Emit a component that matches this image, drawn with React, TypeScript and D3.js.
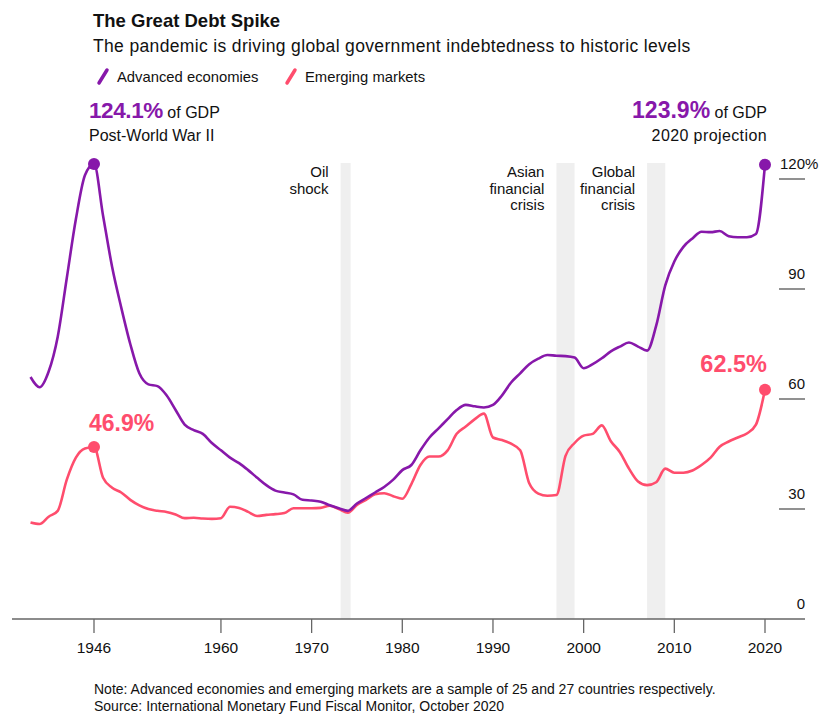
import React from "react";
import * as d3 from "d3";

const years: number[] = d3.range(1939, 2021);

const advanced: number[] = [
  66, 63.2, 67.5, 77, 93, 109, 121, 124.1, 110, 96, // 1939-1948
  85, 75, 67, 64, 63.5, 61, 57, 53, 51.5, 50.5, // 1949-1958
  48, 46, 44, 42.5, 40.6, 38.5, 36.5, 35, 34.5, 34, // 1959-1968
  32.5, 32.3, 32, 31, 30.2, 29.5, 31.5, 33, 34.5, 36, // 1969-1978
  38, 40.6, 42, 46, 49.5, 52, 54.5, 57, 58.4, 58, // 1979-1988
  57.7, 58.4, 61, 64.5, 67, 69.5, 71, 72, 71.8, 71.7, // 1989-1998
  71.3, 68.4, 69.5, 71.1, 73, 74.3, 75.4, 74.3, 73.2, 80, // 1999-2008
  91, 97.5, 101.5, 103.8, 105.6, 105.5, 105.8, 104.4, 104.1, 104.1, // 2009-2018
  105, 123.9, // 2019-2020
];

const emerging: number[] = [
  26.3, 25.9, 27.9, 29.5, 38, 44, 46.5, 46.9, 38.5, 35.8, // 1939-1948
  34.5, 32.5, 31, 30, 29.5, 29.2, 28.5, 27.5, 27.6, 27.4, // 1949-1958
  27.3, 27.5, 30.6, 30.3, 29.2, 28.1, 28.4, 28.6, 28.9, 30.2, // 1959-1968
  30.2, 30.2, 30.3, 30.9, 30, 29, 31.1, 32.5, 34, 34.3, // 1969-1978
  33.5, 32.8, 36.8, 42, 44.3, 44.3, 46, 50.5, 52.5, 54.5, // 1979-1988
  56, 49.5, 48.8, 47.8, 46, 37, 34.2, 33.6, 33.8, 44.5, // 1989-1998
  48, 50, 50.5, 52.8, 48.5, 45.5, 41, 37.5, 36.5, 37.3, // 1999-2008
  41, 39.9, 39.9, 40.5, 42, 44, 47, 48.4, 49.5, 50.6, // 2009-2018
  53, 62.5, // 2019-2020
];

const xTicks: number[] = [1946, 1960, 1970, 1980, 1990, 2000, 2010, 2020];
const yTicks: number[] = [0, 30, 60, 90, 120];

const bands = [
  { from: 1973.2, to: 1974.3, lines: ["Oil", "shock"] },
  { from: 1997, to: 1999, lines: ["Asian", "financial", "crisis"] },
  { from: 2007, to: 2009, lines: ["Global", "financial", "crisis"] },
];

const PURPLE = "#8718aa";
const PINK = "#ff4d6d";
const FONT = "'Liberation Sans', Arial, sans-serif";

export default function App() {
  const W = 828;
  const H = 715;
  const x = d3.scaleLinear().domain([1946, 2020]).range([94, 765]);
  const y = d3.scaleLinear().domain([0, 120]).range([619, 179]);

  const line = d3
    .line<number>()
    .x((_, i) => x(years[i]))
    .y((d) => y(d))
    .curve(d3.curveMonotoneX);

  const iPeak = years.indexOf(1946);
  const iLast = years.length - 1;

  return (
    <svg
      width={W}
      height={H}
      style={{ position: "absolute", left: 0, top: 0, background: "#fff" }}
      fontFamily={FONT}
    >
      {/* Title */}
      <text x={93} y={27} fontSize={18.5} fontWeight="bold" fill="#111">
        The Great Debt Spike
      </text>
      <text x={93} y={52} fontSize={17.5} fill="#111" letterSpacing={0.35}>
        The pandemic is driving global government indebtedness to historic levels
      </text>

      {/* Legend */}
      <line x1={99} y1={83} x2={107} y2={70} stroke={PURPLE} strokeWidth={3.5} strokeLinecap="round" />
      <text x={117} y={82} fontSize={14.8} fill="#111">
        Advanced economies
      </text>
      <line x1={287} y1={83} x2={295} y2={70} stroke={PINK} strokeWidth={3.5} strokeLinecap="round" />
      <text x={305} y={82} fontSize={14.8} fill="#111">
        Emerging markets
      </text>

      {/* Bands */}
      {bands.map((b, k) => (
        <g key={k}>
          <rect x={x(b.from)} y={163} width={x(b.to) - x(b.from)} height={619 - 163} fill="#efefef" />
          {b.lines.map((t, j) => (
            <text
              key={j}
              x={x(b.from) - 12}
              y={177 + j * 16.5}
              textAnchor="end"
              fontSize={15}
              fill="#111"
            >
              {t}
            </text>
          ))}
        </g>
      ))}

      {/* Y gridline stubs & labels */}
      {yTicks.map((t) => (
        <g key={t}>
          {t > 0 && <line x1={779} x2={805} y1={y(t)} y2={y(t)} stroke="#555" strokeWidth={1.3} />}
          <text x={805} y={y(t) - 10} textAnchor="end" fontSize={15} fill="#111">
            {t}
          </text>
          {t === 120 && (
            <text x={805} y={y(t) - 10} fontSize={15} fill="#111">
              %
            </text>
          )}
        </g>
      ))}

      {/* X axis */}
      <line x1={12} x2={805} y1={619} y2={619} stroke="#666" strokeWidth={1.6} />
      {xTicks.map((t) => (
        <g key={t}>
          <line x1={x(t)} x2={x(t)} y1={619} y2={633} stroke="#666" strokeWidth={1.3} />
          <text x={x(t)} y={653} textAnchor="middle" fontSize={15.5} fill="#111">
            {t}
          </text>
        </g>
      ))}

      {/* Lines */}
      <path d={line(emerging) || ""} fill="none" stroke={PINK} strokeWidth={2.6} strokeLinejoin="round" />
      <path d={line(advanced) || ""} fill="none" stroke={PURPLE} strokeWidth={2.6} strokeLinejoin="round" />

      {/* Dots */}
      <circle cx={x(years[iPeak])} cy={y(advanced[iPeak])} r={6} fill={PURPLE} />
      <circle cx={x(years[iLast])} cy={y(advanced[iLast])} r={6} fill={PURPLE} />
      <circle cx={x(years[iPeak])} cy={y(emerging[iPeak])} r={6} fill={PINK} />
      <circle cx={x(years[iLast])} cy={y(emerging[iLast])} r={6} fill={PINK} />

      {/* Annotations */}
      <text x={89} y={118} fill="#111">
        <tspan fontSize={22.5} fontWeight="bold" fill={PURPLE} letterSpacing={-0.4}>
          {advanced[iPeak].toFixed(1)}%
        </tspan>
        <tspan fontSize={16}> of GDP</tspan>
      </text>
      <text x={89} y={141} fontSize={16} fill="#111">
        Post-World War II
      </text>

      <text x={767} y={118} textAnchor="end" fill="#111">
        <tspan fontSize={23} fontWeight="bold" fill={PURPLE}>
          {advanced[iLast].toFixed(1)}%
        </tspan>
        <tspan fontSize={16}> of GDP</tspan>
      </text>
      <text x={767} y={141} textAnchor="end" fontSize={16} fill="#111" letterSpacing={0.4}>
        2020 projection
      </text>

      <text x={89} y={431} fontSize={23} fontWeight="bold" fill={PINK}>
        {emerging[iPeak].toFixed(1)}%
      </text>
      <text x={767} y={372} textAnchor="end" fontSize={23.5} fontWeight="bold" fill={PINK}>
        {emerging[iLast].toFixed(1)}%
      </text>

      {/* Footnote */}
      <text x={94} y={694} fontSize={14} fill="#111">
        Note: Advanced economies and emerging markets are a sample of 25 and 27 countries respectively.
      </text>
      <text x={94} y={711} fontSize={14} fill="#111">
        Source: International Monetary Fund Fiscal Monitor, October 2020
      </text>
    </svg>
  );
}
